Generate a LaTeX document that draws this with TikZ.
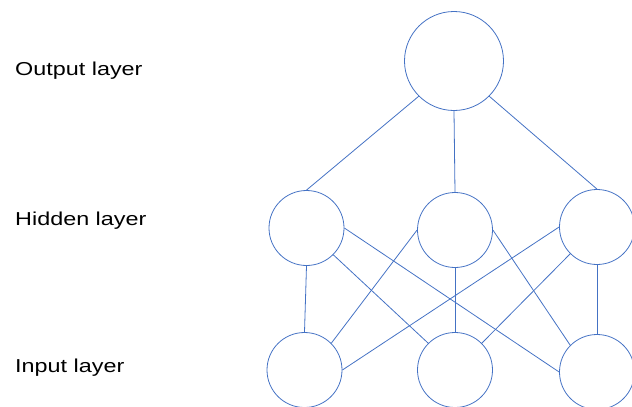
\documentclass[tikz,border=0pt]{standalone}
\usepackage{fontspec}
\setmainfont[FakeStretch=1.25]{Liberation Sans}
\usepackage{tikz}

\definecolor{netblue}{RGB}{68,114,196}
\tikzset{
  neuron/.style={circle, draw=netblue, line width=0.8pt, inner sep=0pt, minimum size=75pt},
  bigneuron/.style={neuron, minimum size=99pt},
  link/.style={draw=netblue, line width=0.8pt},
  layername/.style={anchor=base west, inner sep=0pt, font=\fontsize{18.7}{22}\selectfont}
}

\begin{document}
\begin{tikzpicture}[x=1pt,y=-1pt]
\useasboundingbox (0,0) rectangle (632,407);
% layer names
\node (outname) [layername] at (15,75.7) {Output layer};
\node (hidname) [layername] at (15,225.7) {Hidden layer};
\node (inname) [layername] at (15,372.7) {Input layer};
% neurons
\node (out) [bigneuron] at (454,61) {};
\node (h1) [neuron] at (306.5,228) {};
\node (h2) [neuron] at (455,230) {};
\node (h3) [neuron] at (597,227) {};
\node (i1) [neuron] at (304.5,370) {};
\node (i2) [neuron] at (455,370) {};
\node (i3) [neuron] at (597,372) {};
% output to hidden
\draw [link] (out.south west) -- (h1.north);
\draw [link] (out.south) -- (h2.north);
\draw [link] (out.south east) -- (h3.north);
% hidden to input
\draw [link] (h1.south) -- (i1.north);
\draw [link] (h1.south east) -- (i2.north west);
\draw [link] (h1.east) -- (i3.west);
\draw [link] (h2.west) -- (i1.north east);
\draw [link] (h2.south) -- (i2.north);
\draw [link] (h2.east) -- (i3.north west);
\draw [link] (h3.west) -- (i1.east);
\draw [link] (h3.south west) -- (i2.north east);
\draw [link] (h3.south) -- (i3.north);
\end{tikzpicture}
\end{document}
